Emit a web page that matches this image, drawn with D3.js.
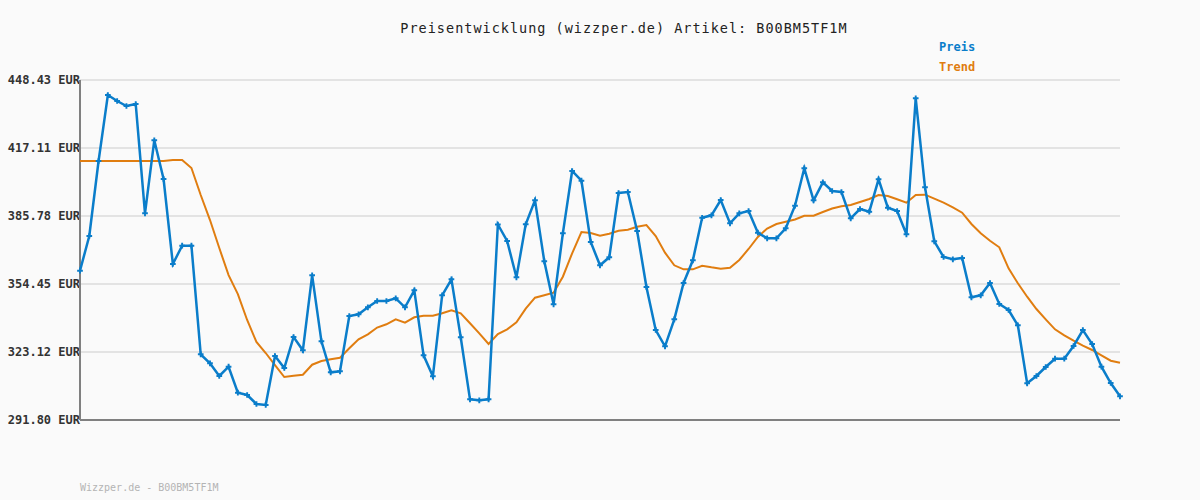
<!DOCTYPE html>
<html>
<head>
<meta charset="utf-8">
<script src="https://cdn.jsdelivr.net/npm/d3@7"></script>
<style>
  body { margin: 0; background: #fafafa; }
  svg { display: block; background: #fafafa; font-family: "DejaVu Sans Mono", monospace; }
</style>
</head>
<body>
<svg id="chart" width="1200" height="500"></svg>
<script>
// price per observation (EUR)
const preis = [
  360.58, 376.56, 411.11, 441.52, 438.76, 436.45, 437.37, 387.02, 420.65, 402.82,
  363.67, 372.10, 372.10, 322.06, 317.92, 312.07, 316.35, 304.38, 303.32, 299.17,
  298.71, 321.28, 315.75, 330.04, 323.91, 358.46, 328.05, 313.77, 314.23, 339.71,
  340.49, 343.72, 346.62, 346.62, 347.86, 343.72, 351.55, 321.60, 311.93, 349.25,
  356.62, 329.90, 301.33, 300.87, 301.33, 381.86, 374.26, 357.54, 381.95, 393.01,
  364.91, 345.10, 377.81, 406.51, 402.04, 373.80, 363.06, 366.75, 396.37, 396.83,
  378.87, 353.07, 333.26, 325.75, 338.19, 354.91, 365.37, 384.95, 386.10, 393.15,
  382.41, 387.02, 388.08, 378.08, 375.50, 375.50, 380.11, 390.52, 407.75, 393.01,
  401.30, 397.29, 396.83, 384.72, 389.00, 387.76, 402.68, 389.60, 388.08, 377.35,
  440.00, 399.00, 374.12, 366.89, 365.83, 366.43, 348.32, 349.25, 354.91, 345.24,
  342.47, 335.42, 308.71, 312.07, 316.21, 320.04, 320.04, 325.89, 333.26, 326.81,
  316.35, 308.84, 302.72
];

const trend = [
  411.11, 411.11, 411.11, 411.11, 411.11, 411.11, 411.11, 411.11, 411.11, 411.11,
  411.57, 411.57, 407.89, 395.45, 383.91, 371.01, 358.56, 349.81, 337.87, 327.73,
  322.66, 317.13, 311.61, 312.21, 312.67, 317.27, 318.98, 319.76, 320.50, 324.83,
  328.98, 331.28, 334.39, 335.89, 338.19, 336.62, 339.11, 339.85, 339.85, 340.95,
  342.34, 340.95, 336.35, 331.74, 326.81, 331.42, 333.58, 336.81, 343.08, 348.14,
  349.25, 350.45, 357.81, 368.59, 378.41, 377.95, 376.70, 377.62, 379.01, 379.47,
  380.85, 381.63, 376.56, 368.87, 363.07, 361.22, 361.22, 362.88, 362.14, 361.50,
  361.96, 365.51, 370.58, 376.10, 380.02, 382.09, 383.15, 384.16, 385.91, 385.91,
  387.62, 389.23, 390.24, 390.84, 392.23, 393.61, 395.45, 394.99, 393.47, 391.91,
  395.45, 395.59, 393.75, 391.91, 389.79, 387.30, 382.09, 377.81, 374.40, 371.36,
  361.68, 354.77, 348.60, 342.93, 338.19, 333.58, 330.82, 328.33, 326.03, 324.05,
  321.60, 319.12, 318.20
];

const yTicks = [291.80, 323.12, 354.45, 385.78, 417.11, 448.43];
const titel = "Preisentwicklung (wizzper.de) Artikel: B00BM5TF1M";
const footer = "Wizzper.de - B00BM5TF1M";
const legende = [{name: "Preis", color: "#0a7dca"}, {name: "Trend", color: "#e07d10"}];

const svg = d3.select("#chart");
const margin = {top: 80, right: 80, bottom: 80, left: 80};
const width = 1200 - margin.left - margin.right;
const height = 500 - margin.top - margin.bottom;

const xScale = d3.scaleLinear().domain([0, preis.length - 1]).range([0, width]);
const yScale = d3.scaleLinear().domain([291.80, 448.43]).range([height, 0]);

const g = svg.append("g")
    .attr("transform", "translate(" + margin.left + "," + margin.top + ")");

// grid
g.append("g")
    .selectAll("line")
    .data(yTicks)
    .join("line")
    .attr("x1", 0)
    .attr("x2", width)
    .attr("y1", d => yScale(d))
    .attr("y2", d => yScale(d))
    .style("stroke", "#e3e3e3")
    .style("stroke-width", 2);

// y axis
const yAxis = d3.axisLeft(yScale)
    .tickValues(yTicks)
    .tickSize(0)
    .tickPadding(0)
    .tickFormat(d => d.toFixed(2) + " EUR");

g.append("g")
    .attr("class", "axis axis--y")
    .call(yAxis)
    .call(a => a.select(".domain").remove())
    .selectAll("text")
    .style("font-family", "'DejaVu Sans Mono', monospace")
    .style("font-size", "12px")
    .style("font-weight", "bold")
    .style("fill", "#333");

// axis lines
g.append("line")
    .attr("x1", 0).attr("x2", 0)
    .attr("y1", 0).attr("y2", height)
    .style("stroke", "#808080").style("stroke-width", 2);
g.append("line")
    .attr("x1", 0).attr("x2", width)
    .attr("y1", height).attr("y2", height)
    .style("stroke", "#808080").style("stroke-width", 2);

const line = d3.line()
    .x((d, i) => xScale(i))
    .y(d => yScale(d));

g.append("path")
    .datum(trend)
    .attr("d", line)
    .style("fill", "none")
    .style("stroke", legende[1].color)
    .style("stroke-width", 2);

g.append("path")
    .datum(preis)
    .attr("d", line)
    .style("fill", "none")
    .style("stroke", legende[0].color)
    .style("stroke-width", 2.5);

const cross = d3.symbol().type(d3.symbolCross).size(18);
g.append("g")
    .selectAll("path")
    .data(preis)
    .join("path")
    .attr("d", cross)
    .attr("transform", (d, i) => "translate(" + xScale(i) + "," + yScale(d) + ")")
    .style("fill", legende[0].color);

// title
svg.append("text")
    .attr("x", 624)
    .attr("y", 33)
    .attr("text-anchor", "middle")
    .style("font-size", "13.5px")
    .style("letter-spacing", "1px")
    .style("fill", "#222")
    .text(titel);

// legend
svg.append("g")
    .selectAll("text")
    .data(legende)
    .join("text")
    .attr("x", 939)
    .attr("y", (d, i) => 51 + i * 20)
    .style("font-size", "12px")
    .style("font-weight", "bold")
    .style("fill", d => d.color)
    .text(d => d.name);

// footer
svg.append("text")
    .attr("x", 80)
    .attr("y", 491)
    .style("font-size", "10px")
    .style("fill", "#b4b4b4")
    .text(footer);
</script>
</body>
</html>
